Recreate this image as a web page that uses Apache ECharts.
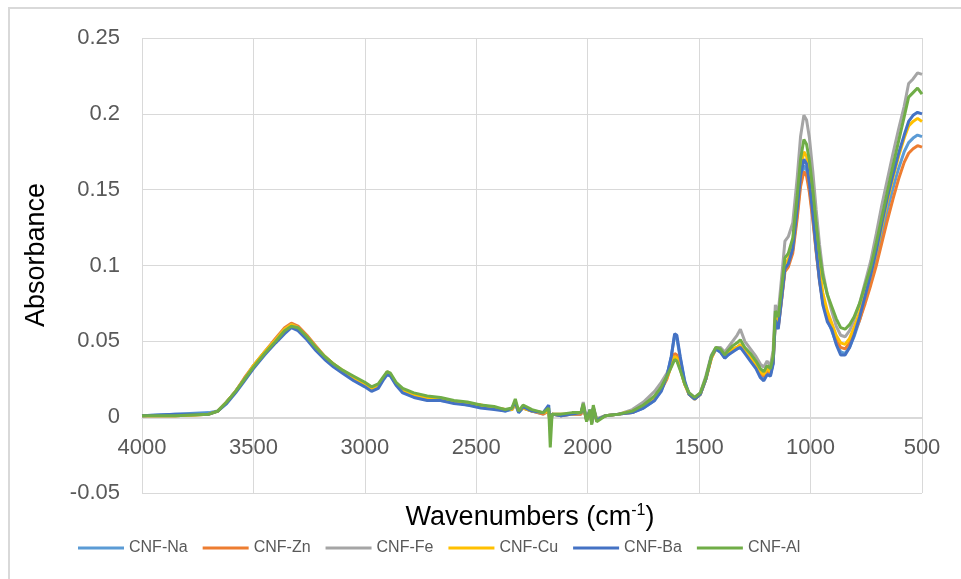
<!DOCTYPE html>
<html>
<head>
<meta charset="utf-8">
<script src="https://cdn.jsdelivr.net/npm/echarts@6/dist/echarts.min.js"></script>
<style>
html, body { margin: 0; padding: 0; background: #fff; }
#chart { width: 961px; height: 579px; }
</style>
</head>
<body>
<div id="chart"></div>
<script>
// wavenumbers (cm-1), shared by all spectra
var wavenumbers = [4000,3850,3700,3660,3620,3580,3540,3500,3450,3400,
	3360,3330,3300,3260,3220,3180,3140,3100,3050,3000,
	2970,2940,2915,2900,2885,2860,2830,2780,2720,2660,
	2600,2540,2480,2420,2370,2340,2325,2310,2290,2250,
	2200,2175,2168,2160,2120,2070,2030,2020,2005,1990,
	1982,1975,1960,1920,1860,1800,1750,1700,1670,1645,
	1625,1610,1600,1585,1565,1545,1520,1495,1470,1445,
	1425,1405,1385,1370,1350,1330,1315,1295,1270,1245,
	1225,1210,1195,1180,1168,1158,1145,1130,1115,1100,
	1080,1060,1045,1030,1018,1005,990,975,960,945,
	925,905,885,865,845,825,805,780,755,730,
	705,680,655,630,605,580,560,540,520,500];

var cnfNa = [0.001,0.002,0.003,0.004,0.010,0.017,0.025,0.033,0.042,0.050,
	0.057,0.061,0.058,0.052,0.045,0.039,0.034,0.030,0.025,0.021,
	0.018,0.020,0.026,0.029,0.028,0.022,0.017,0.014,0.012,0.011,
	0.010,0.008,0.007,0.006,0.004,0.005,0.009,0.003,0.006,0.004,
	0.002,0.005,-0.007,0.002,0.001,0.002,0.002,0.007,-0.002,0.004,
	-0.004,0.006,-0.002,0.001,0.002,0.003,0.006,0.011,0.018,0.027,
	0.040,0.054,0.052,0.039,0.023,0.015,0.012,0.015,0.025,0.040,
	0.045,0.043,0.039,0.041,0.044,0.045,0.046,0.043,0.038,0.033,
	0.028,0.026,0.030,0.028,0.036,0.065,0.060,0.078,0.098,0.101,
	0.110,0.134,0.155,0.166,0.163,0.151,0.132,0.110,0.091,0.076,
	0.065,0.057,0.049,0.043,0.042,0.046,0.053,0.064,0.077,0.090,
	0.105,0.121,0.137,0.151,0.164,0.175,0.181,0.184,0.186,0.185];

var cnfZn = [0.001,0.001,0.002,0.004,0.010,0.017,0.026,0.034,0.043,0.052,
	0.059,0.062,0.060,0.054,0.047,0.040,0.035,0.030,0.026,0.021,
	0.019,0.021,0.026,0.030,0.028,0.022,0.018,0.015,0.013,0.012,
	0.010,0.009,0.007,0.006,0.005,0.005,0.009,0.004,0.006,0.004,
	0.002,0.004,-0.005,0.002,0.001,0.002,0.002,0.007,-0.002,0.004,
	-0.003,0.006,-0.002,0.001,0.002,0.003,0.007,0.012,0.018,0.025,
	0.034,0.042,0.041,0.033,0.022,0.015,0.012,0.015,0.025,0.039,
	0.045,0.044,0.040,0.042,0.045,0.046,0.047,0.043,0.039,0.034,
	0.029,0.027,0.031,0.029,0.036,0.063,0.059,0.077,0.096,0.099,
	0.108,0.131,0.152,0.162,0.159,0.148,0.130,0.109,0.090,0.076,
	0.066,0.059,0.051,0.046,0.045,0.049,0.055,0.064,0.075,0.087,
	0.100,0.115,0.130,0.144,0.157,0.168,0.174,0.177,0.179,0.178];

var cnfFe = [0.001,0.001,0.002,0.004,0.010,0.017,0.025,0.034,0.043,0.051,
	0.058,0.061,0.059,0.053,0.046,0.040,0.034,0.030,0.026,0.022,
	0.019,0.021,0.026,0.029,0.028,0.022,0.018,0.015,0.013,0.012,
	0.010,0.009,0.008,0.006,0.005,0.005,0.010,0.004,0.007,0.004,
	0.003,0.004,-0.004,0.002,0.002,0.002,0.003,0.010,-0.001,0.004,
	-0.003,0.007,-0.001,0.001,0.002,0.005,0.010,0.017,0.023,0.029,
	0.035,0.040,0.038,0.032,0.022,0.016,0.013,0.016,0.027,0.041,
	0.046,0.046,0.043,0.046,0.050,0.054,0.058,0.050,0.045,0.040,
	0.035,0.033,0.037,0.034,0.044,0.074,0.069,0.092,0.116,0.119,
	0.128,0.158,0.185,0.199,0.196,0.184,0.162,0.137,0.114,0.096,
	0.081,0.070,0.060,0.054,0.053,0.057,0.064,0.075,0.089,0.103,
	0.121,0.140,0.157,0.174,0.190,0.205,0.220,0.223,0.227,0.226];

var cnfCu = [0.001,0.001,0.002,0.004,0.010,0.017,0.025,0.034,0.043,0.051,
	0.058,0.061,0.059,0.053,0.046,0.040,0.035,0.031,0.026,0.022,
	0.019,0.021,0.026,0.029,0.028,0.022,0.018,0.015,0.013,0.012,
	0.010,0.009,0.008,0.006,0.005,0.005,0.009,0.004,0.006,0.004,
	0.003,0.004,-0.006,0.002,0.002,0.002,0.003,0.007,-0.002,0.004,
	-0.004,0.006,-0.002,0.001,0.002,0.004,0.007,0.013,0.019,0.026,
	0.034,0.040,0.039,0.032,0.022,0.015,0.012,0.015,0.025,0.039,
	0.045,0.044,0.040,0.042,0.045,0.046,0.048,0.044,0.040,0.035,
	0.030,0.028,0.032,0.030,0.038,0.066,0.062,0.081,0.101,0.104,
	0.114,0.140,0.163,0.175,0.172,0.160,0.140,0.118,0.098,0.082,
	0.070,0.062,0.054,0.049,0.048,0.052,0.059,0.069,0.081,0.094,
	0.109,0.126,0.143,0.158,0.172,0.184,0.192,0.195,0.197,0.195];

var cnfBa = [0.001,0.002,0.002,0.004,0.009,0.016,0.024,0.032,0.041,0.049,
	0.055,0.059,0.057,0.051,0.044,0.038,0.033,0.029,0.024,0.020,
	0.017,0.019,0.025,0.028,0.027,0.021,0.016,0.013,0.011,0.011,
	0.009,0.008,0.006,0.005,0.004,0.006,0.010,0.003,0.007,0.004,
	0.003,0.008,-0.008,0.002,0.001,0.002,0.003,0.008,-0.002,0.005,
	-0.004,0.006,-0.002,0.001,0.002,0.003,0.006,0.011,0.017,0.027,
	0.040,0.055,0.054,0.040,0.024,0.015,0.012,0.015,0.025,0.040,
	0.045,0.043,0.039,0.041,0.043,0.045,0.046,0.042,0.037,0.032,
	0.026,0.024,0.028,0.027,0.035,0.064,0.058,0.078,0.098,0.101,
	0.111,0.137,0.159,0.170,0.167,0.154,0.134,0.111,0.090,0.074,
	0.063,0.058,0.048,0.041,0.041,0.046,0.054,0.066,0.080,0.094,
	0.110,0.128,0.145,0.160,0.174,0.186,0.195,0.199,0.201,0.200];

var cnfAl = [0.001,0.001,0.002,0.004,0.010,0.017,0.025,0.033,0.042,0.050,
	0.057,0.060,0.059,0.053,0.046,0.040,0.035,0.031,0.027,0.023,
	0.020,0.022,0.027,0.030,0.029,0.023,0.019,0.016,0.014,0.013,
	0.011,0.010,0.008,0.007,0.005,0.006,0.012,0.004,0.008,0.005,
	0.003,0.006,-0.020,0.002,0.002,0.003,0.003,0.009,-0.003,0.005,
	-0.005,0.008,-0.003,0.001,0.002,0.004,0.008,0.014,0.020,0.027,
	0.033,0.038,0.037,0.031,0.022,0.016,0.013,0.016,0.026,0.040,
	0.046,0.045,0.041,0.044,0.047,0.049,0.051,0.046,0.042,0.037,
	0.032,0.030,0.034,0.032,0.040,0.070,0.066,0.085,0.105,0.108,
	0.118,0.146,0.170,0.183,0.180,0.169,0.150,0.128,0.108,0.093,
	0.081,0.073,0.065,0.059,0.058,0.061,0.066,0.075,0.087,0.099,
	0.115,0.132,0.149,0.166,0.182,0.198,0.211,0.214,0.217,0.213];

var seriesNames = ['CNF-Na','CNF-Zn','CNF-Fe','CNF-Cu','CNF-Ba','CNF-Al'];
var seriesValues = [cnfNa, cnfZn, cnfFe, cnfCu, cnfBa, cnfAl];
var colors = ['#5B9BD5','#ED7D31','#A5A5A5','#FFC000','#4472C4','#70AD47'];

var fontFam = '"Liberation Sans", Arial, sans-serif';

var series = [];
for(var i = 0; i < seriesNames.length; i++){
	var pts = [];
	for(var j = 0; j < wavenumbers.length; j++){
		pts.push([wavenumbers[j], seriesValues[i][j]]);
	}
	series.push({
		name: seriesNames[i],
		type: 'line',
		showSymbol: false,
		symbol: 'none',
		lineStyle: { width: 3, color: colors[i] },
		itemStyle: { color: colors[i] },
		data: pts
	});
}

var chart = echarts.init(document.getElementById('chart'), null, { renderer: 'canvas' });
chart.setOption({
	animation: false,
	color: colors,
	grid: { left: 142, right: 39, top: 38, bottom: 86, containLabel: false },
	xAxis: {
		type: 'value',
		inverse: true,
		min: 500,
		max: 4000,
		interval: 500,
		// axis sits on the zero line (0 is 75px above the grid bottom)
		offset: -75,
		axisLine: { show: true, onZero: false, lineStyle: { color: '#D9D9D9', width: 1 } },
		axisTick: { show: false },
		axisLabel: {
			color: '#595959', fontSize: 22, fontFamily: fontFam, margin: 19,
			formatter: function(v){ return String(v); }
		},
		splitLine: { show: true, lineStyle: { color: '#D9D9D9', width: 1 } }
	},
	yAxis: {
		type: 'value',
		min: -0.05,
		max: 0.25,
		interval: 0.05,
		axisLine: { show: false },
		axisTick: { show: false },
		axisLabel: {
			color: '#595959', fontSize: 22, fontFamily: fontFam, margin: 22,
			formatter: function(v){ return String(+v.toFixed(2)); }
		},
		splitLine: { show: true, lineStyle: { color: '#D9D9D9', width: 1 } }
	},
	legend: {
		data: seriesNames,
		left: 73,
		top: 535,
		icon: 'rect',
		itemWidth: 46,
		itemHeight: 3,
		itemGap: 15,
		textStyle: { color: '#595959', fontSize: 16, fontFamily: fontFam }
	},
	graphic: [
		{
			type: 'rect',
			silent: true,
			shape: { x: 9, y: 8, width: 970, height: 620 },
			style: { fill: 'none', stroke: '#D9D9D9', lineWidth: 2 }
		},
		{
			type: 'text',
			x: 37,
			y: 255,
			rotation: Math.PI / 2,
			style: {
				text: 'Absorbance',
				fill: '#000',
				font: '27px ' + fontFam,
				align: 'center',
				verticalAlign: 'middle'
			}
		},
		{
			type: 'text',
			x: 530,
			y: 517,
			style: {
				text: '{a|Wavenumbers (cm}{s|-1}{a|)}',
				fill: '#000',
				align: 'center',
				verticalAlign: 'middle',
				rich: {
					a: { fontSize: 27, fontFamily: fontFam, fill: '#000', verticalAlign: 'bottom' },
					s: { fontSize: 16, fontFamily: fontFam, fill: '#000', verticalAlign: 'top', padding: [0, 0, 12, 0] }
				}
			}
		}
	],
	series: series
});
</script>
</body>
</html>
